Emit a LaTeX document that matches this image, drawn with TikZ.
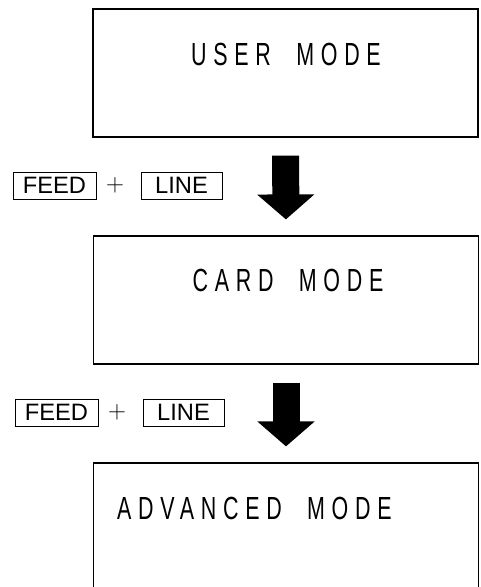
\documentclass[tikz,border=0pt]{standalone}
\usepackage{fontspec}
\setmainfont{Liberation Sans}
\newfontfamily\modefont[FakeStretch=0.67,LetterSpace=21,WordSpace=2.0]{Liberation Sans}
\usetikzlibrary{arrows.meta}

\tikzset{
  modebox/.style={draw,line width=1.2pt,minimum width=385pt,minimum height=128pt,inner sep=0pt},
  modetext/.style={anchor=base,inner sep=0pt,font=\modefont\fontsize{32}{38}\selectfont},
  keybox/.style={draw,line width=1pt,minimum height=27pt,inner sep=0pt,font=\fontsize{23.7}{28}\selectfont},
  plussign/.style={inner sep=0pt,font=\fontsize{23.7}{28}\selectfont},
  bigarrow/.style={line width=27pt,-{Triangle[length=25pt,width=56pt]},shorten <=18pt,shorten >=16pt}
}

\begin{document}
\begin{tikzpicture}[x=1pt,y=-1pt]
\clip (0,0) rectangle (481,587);
% the three modes
\node[modebox] (user) at (285.5,73) {};
\node[modebox] (card) at (286,300) {};
\node[modebox] (adv) at (286,527) {};
\node[modetext] (usertxt) at (286,65) {USER MODE};
\node[modetext] (cardtxt) at (288,291) {CARD MODE};
\node[modetext,anchor=base west] (advtxt) at (117,519) {ADVANCED MODE};
% key presses
\node[keybox,minimum width=83pt] (feedA) at (54.5,185.5) {FEED};
\node[plussign] (plusA) at (115,185.5) {$+$};
\node[keybox,minimum width=81pt] (lineA) at (181.5,185.5) {LINE};
\node[keybox,minimum width=83pt] (feedB) at (56.5,412.5) {FEED};
\node[plussign] (plusB) at (117,412.5) {$+$};
\node[keybox,minimum width=81pt] (lineB) at (183.5,412.5) {LINE};
% transitions
\draw[bigarrow] (user.south) -- (card.north);
\draw[bigarrow] (card.south) -- (adv.north);
\end{tikzpicture}
\end{document}
